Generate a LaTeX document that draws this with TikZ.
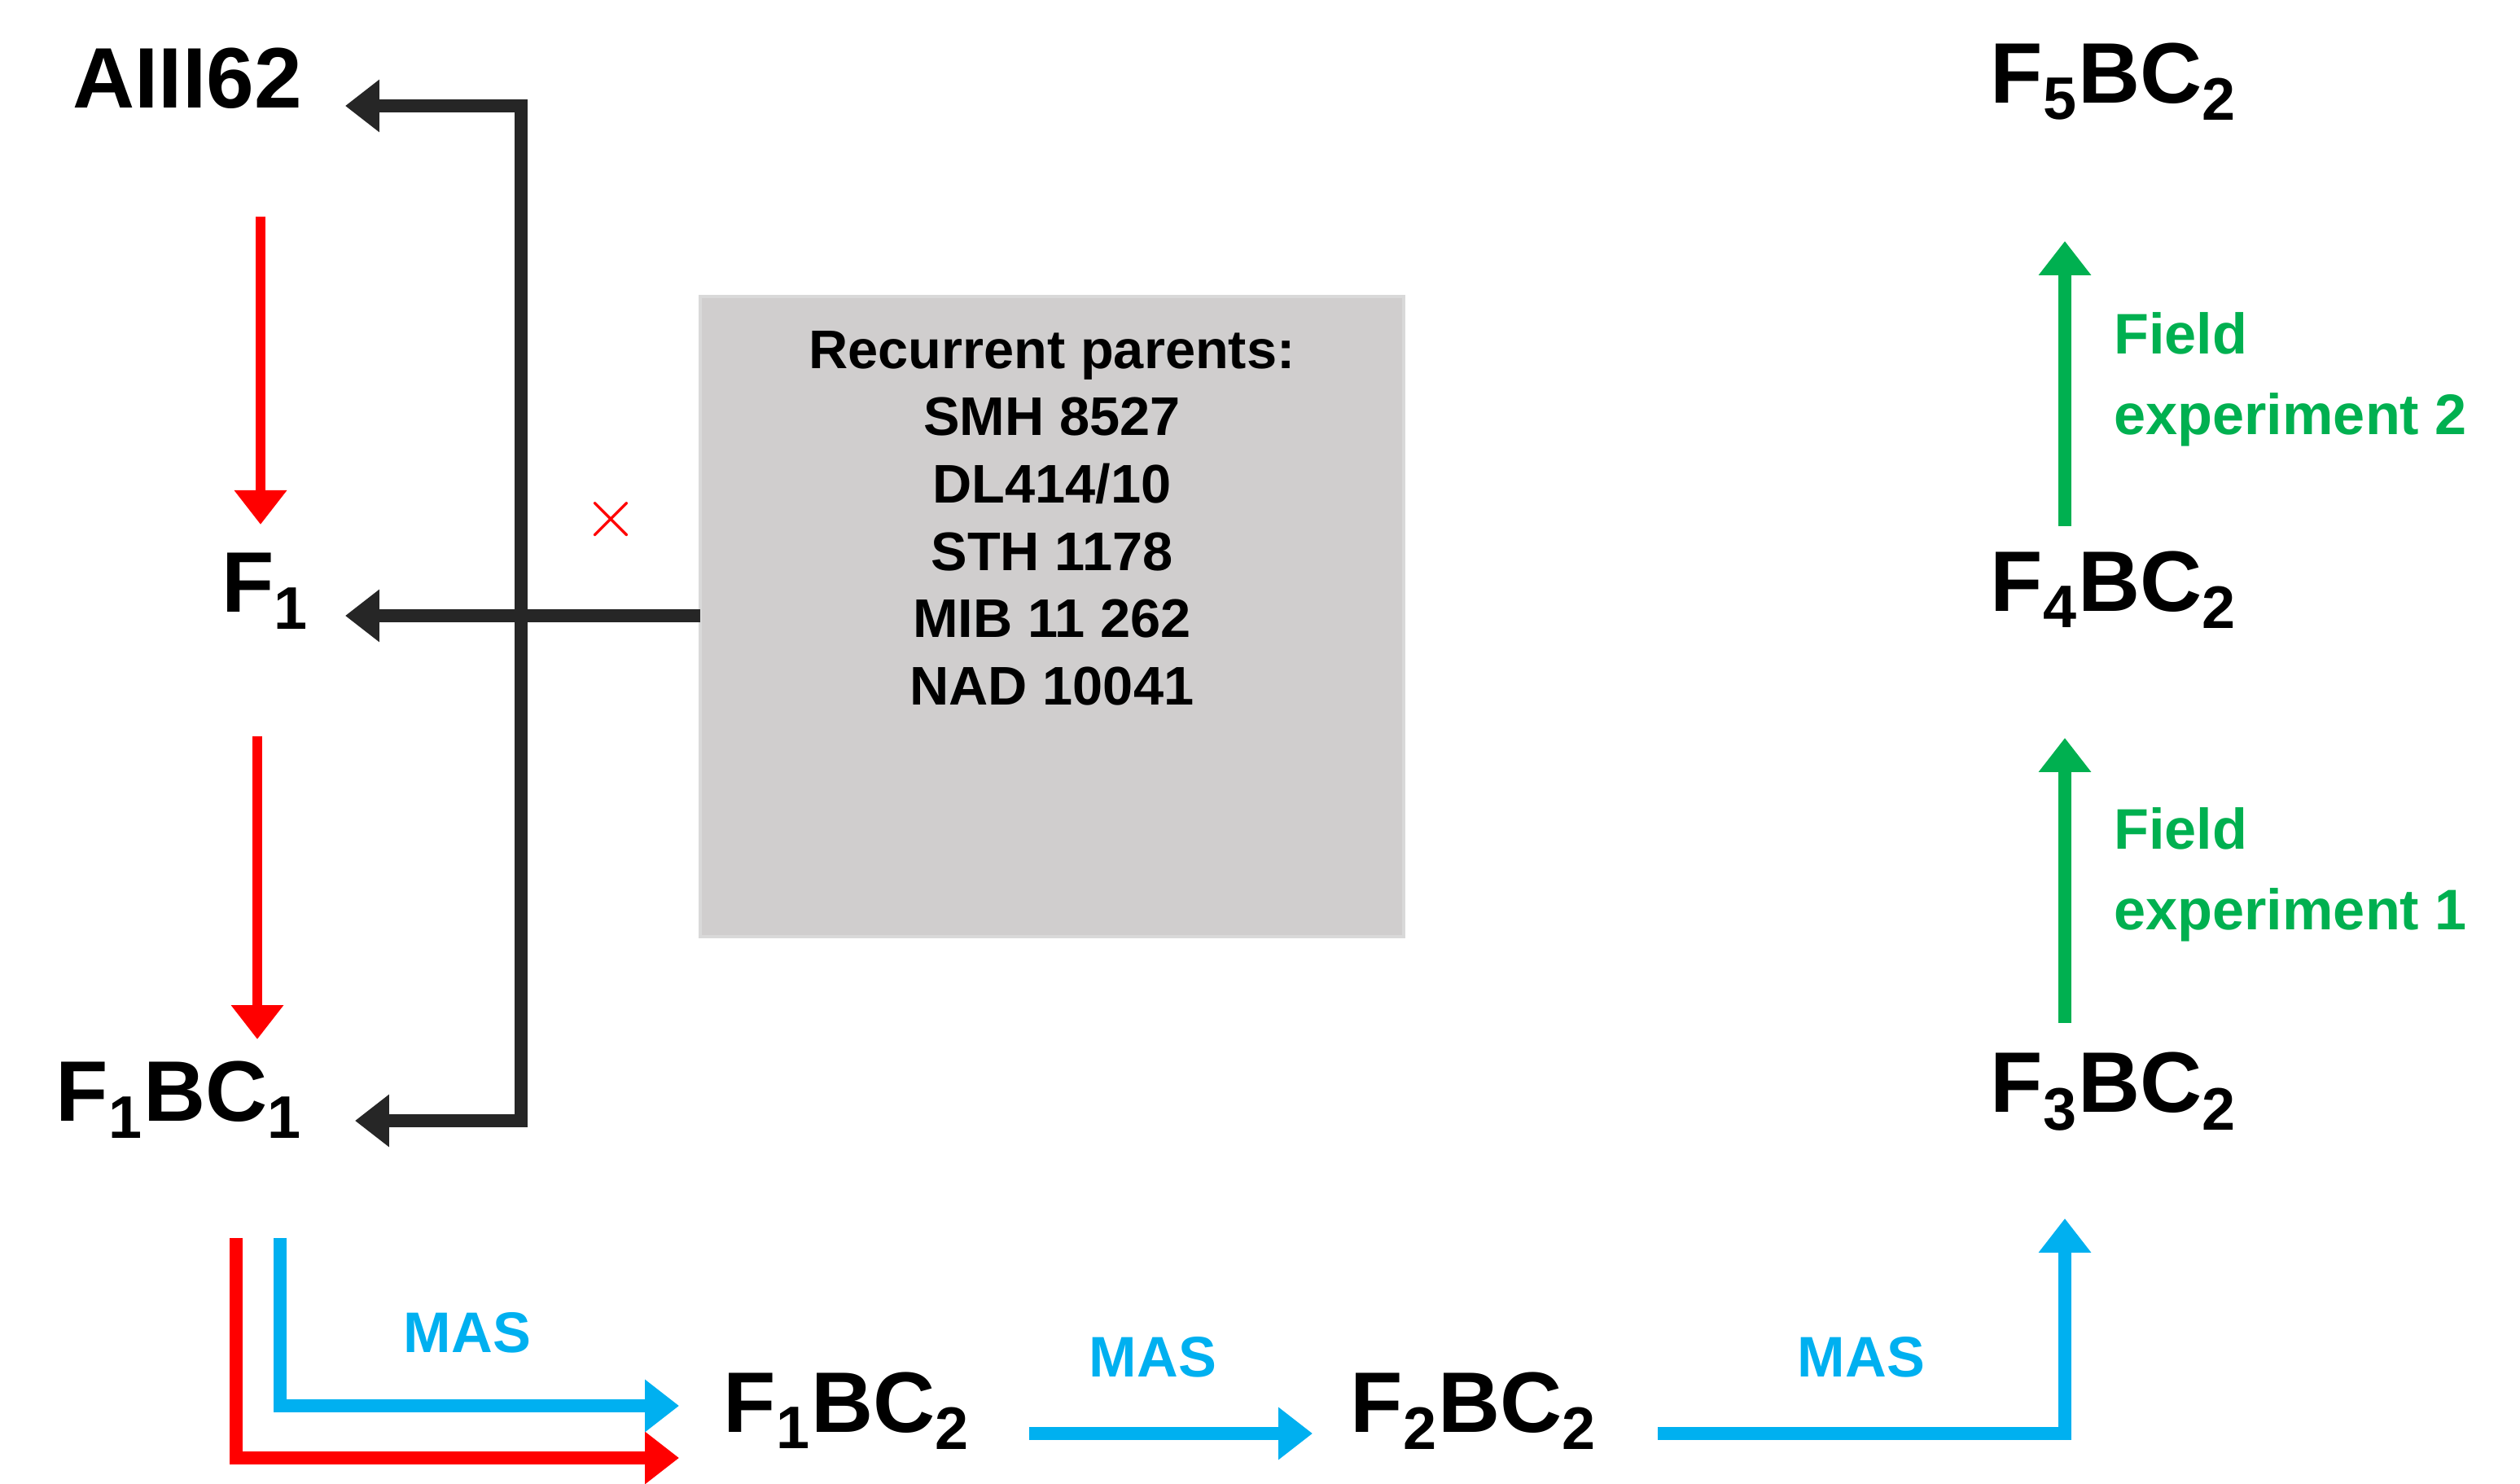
\documentclass[tikz,border=0pt]{standalone}
\usepackage{fontspec}
\setmainfont{Liberation Sans}
\usetikzlibrary{arrows.meta}
\definecolor{cblue}{HTML}{00B0F0}
\definecolor{cgreen}{HTML}{00B050}
\definecolor{cdark}{HTML}{262626}
\definecolor{cbox}{HTML}{D0CECE}
\begin{document}
\begin{tikzpicture}[x=0.02cm,y=-0.02cm,
  big/.style={font=\fontsize{30}{34}\selectfont\bfseries},
  lab/.style={font=\fontsize{20}{28}\selectfont\bfseries},
  arr/.style={line width=#1, -{Triangle[length=0.42cm,width=0.62cm]}},
  arr/.default=0.16cm]
\useasboundingbox (0,0) rectangle (1547.5,911);
% labels
\node[big] (A) at (115,48) {AIII62};
\node[big] (F1) at (163,363) {F$_{\mathbf 1}$};
\node[big] (F1BC1) at (110,675) {F$_{\mathbf 1}$BC$_{\mathbf 1}$};
\node[big] (F1BC2) at (520,866) {F$_{\mathbf 1}$BC$_{\mathbf 2}$};
\node[big] (F2BC2) at (905,866) {F$_{\mathbf 2}$BC$_{\mathbf 2}$};
\node[big] (F3BC2) at (1298,670) {F$_{\mathbf 3}$BC$_{\mathbf 2}$};
\node[big] (F4BC2) at (1298,362) {F$_{\mathbf 4}$BC$_{\mathbf 2}$};
\node[big] (F5BC2) at (1298,50) {F$_{\mathbf 5}$BC$_{\mathbf 2}$};
% box
\node[draw=black!15, line width=1pt, fill=cbox, minimum width=8.64cm, minimum height=7.86cm] (box) at (646,378.5) {};
\node[lab, font=\fontsize{19}{23.5}\selectfont\bfseries, align=center, anchor=north] (bt) at (646,197) {Recurrent parents:\\SMH 8527\\DL414/10\\STH 1178\\MIB 11 262\\NAD 10041};
\node[text=red, font=\fontsize{24}{24}\selectfont\bfseries] (x) at (375,319) {$\times$};
% black connectors
\coordinate (t) at (320,65);
\coordinate (b) at (320,688);
\coordinate (m) at (430,378);
\draw[cdark, line width=0.16cm] ([yshift=0.08cm]b) -- ([yshift=-0.08cm]t);
\draw[cdark, arr] ([xshift=0.08cm]t) -- (212,65);
\draw[cdark, arr] (m) -- (212,378);
\draw[cdark, arr] ([xshift=0.08cm]b) -- (218,688);
% red down arrows
\draw[red, arr=0.12cm] (160,133) -- (160,322);
\draw[red, arr=0.12cm] (158,452) -- (158,638);
% red and blue Ls
\draw[red, arr=0.16cm] (145,760) -- (145,895) -- (417,895);
\draw[cblue, arr=0.16cm] (172,760) -- (172,863) -- (417,863);
\node[lab, text=cblue] (m1) at (287,818) {MAS};
\draw[cblue, arr=0.16cm] (632,880) -- (806,880);
\node[lab, text=cblue] (m2) at (708,833) {MAS};
\draw[cblue, arr=0.16cm] (1018,880) -- (1268,880) -- (1268,748);
\node[lab, text=cblue] (m3) at (1143,833) {MAS};
% green
\draw[cgreen, arr=0.16cm] (1268,628) -- (1268,453);
\draw[cgreen, arr=0.16cm] (1268,323) -- (1268,148);
\node[lab, text=cgreen, align=left, anchor=west] (g1) at (1292,537) {Field\\experiment 1};
\node[lab, text=cgreen, align=left, anchor=west] (g2) at (1292,233) {Field\\experiment 2};
\end{tikzpicture}
\end{document}
